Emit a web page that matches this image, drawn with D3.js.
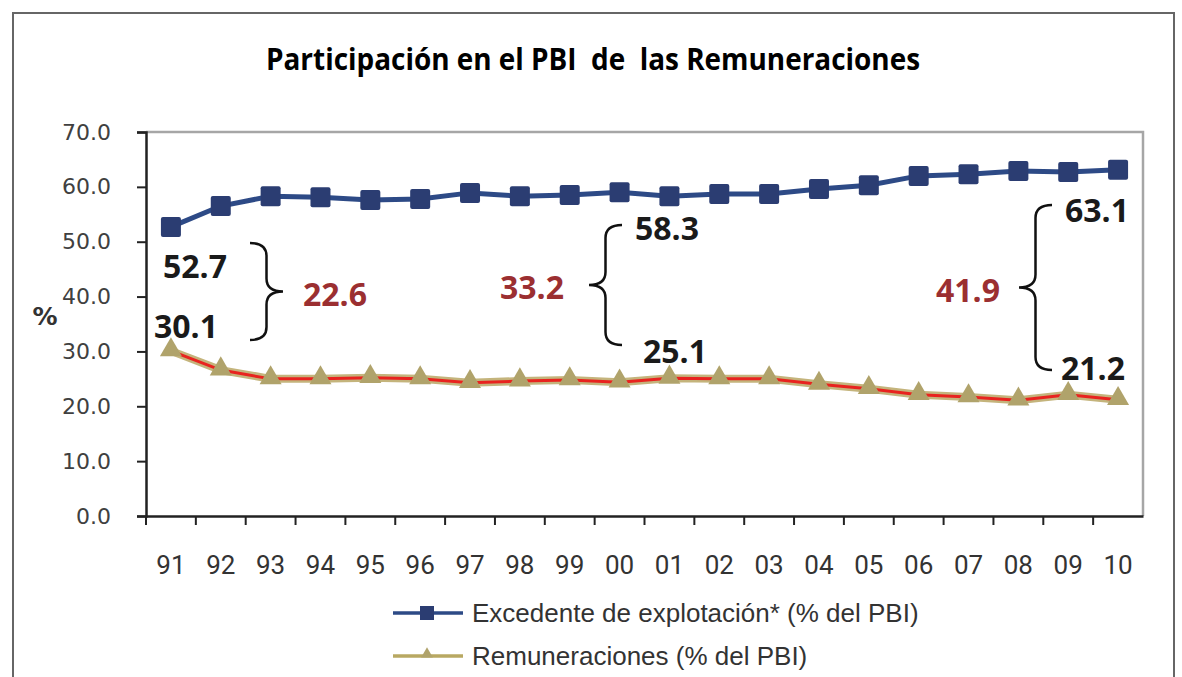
<!DOCTYPE html>
<html lang="es">
  <head>
    <meta charset="UTF-8" />
    <title>Participación en el PBI de las Remuneraciones</title>
    <style>
      body { margin: 0; background: #fff; }
    </style>
  </head>
  <body>
    <div id="chart"></div>
    <script src="https://cdn.jsdelivr.net/npm/d3@7"></script>
    <script>
      // datos
      const years = ["91", "92", "93", "94", "95", "96", "97", "98", "99", "00",
                     "01", "02", "03", "04", "05", "06", "07", "08", "09", "10"];
      const excedente = [52.7, 56.5, 58.3, 58.1, 57.6, 57.8, 58.9, 58.3, 58.5, 59.0,
                         58.3, 58.7, 58.7, 59.6, 60.3, 62.0, 62.3, 62.9, 62.7, 63.1];
      const remuneraciones = [30.1, 26.6, 25.0, 25.0, 25.2, 25.0, 24.3, 24.6, 24.8, 24.4,
                              25.1, 25.0, 25.0, 24.0, 23.2, 22.1, 21.7, 21.1, 22.1, 21.2];
      const yTicks = [0, 10, 20, 30, 40, 50, 60, 70];
      const seriesNames = ["Excedente de explotación* (% del PBI)", "Remuneraciones (% del PBI)"];
      // brechas anotadas: año, excedente, remuneraciones, diferencia
      const gapYears = ["91", "01", "10"];
      const gapTop = [52.7, 58.3, 63.1];
      const gapBottom = [30.1, 25.1, 21.2];
      const gapValues = [22.6, 33.2, 41.9];

      const W = 1182, H = 677;
      const pLeft = 146, pRight = 1143, pTop = 132, pBottom = 516;

      const svg = d3.select("#chart").append("svg")
        .attr("width", W).attr("height", H);

      // marco exterior
      svg.append("path")
        .attr("d", `M13,${H} L13,13 L1174,13 L1174,${H}`)
        .attr("fill", "none").attr("stroke", "#666").attr("stroke-width", 2);

      svg.append("text")
        .attr("x", 593).attr("y", 70)
        .attr("text-anchor", "middle")
        .style("white-space", "pre")
        .attr("font-family", "'Open Sans', sans-serif")
        .attr("font-weight", 700).attr("font-size", 31)
        .attr("textLength", 654).attr("lengthAdjust", "spacingAndGlyphs")
        .attr("fill", "#000")
        .text("Participación en el PBI  de  las Remuneraciones");

      const x = d3.scaleBand().domain(years).range([pLeft, pRight]);
      const y = d3.scaleLinear().domain([0, 70]).range([pBottom, pTop]);
      const cx = d => x(d) + x.bandwidth() / 2;

      // borde del area de grafico
      svg.append("path")
        .attr("d", `M${pLeft},${pTop} L${pRight},${pTop} L${pRight},${pBottom}`)
        .attr("fill", "none").attr("stroke", "#a6a6a6").attr("stroke-width", 2.5);

      const yAxis = svg.append("g")
        .attr("transform", `translate(${pLeft},0)`)
        .call(d3.axisLeft(y).tickValues(yTicks).tickFormat(d3.format(".1f")).tickSize(9).tickPadding(26));
      yAxis.select(".domain").attr("stroke", "#222").attr("stroke-width", 2.5);
      yAxis.selectAll(".tick line").attr("stroke", "#222").attr("stroke-width", 2);
      yAxis.selectAll("text")
        .attr("font-family", "'DejaVu Sans', sans-serif")
        .attr("font-size", 22).attr("fill", "#404040");

      const xAxis = svg.append("g")
        .attr("transform", `translate(0,${pBottom})`)
        .call(d3.axisBottom(x).tickValues([]).tickSizeOuter(0));
      xAxis.select(".domain").attr("stroke", "#222").attr("stroke-width", 2.5);
      // marcas entre categorias
      xAxis.selectAll(".sep")
        .data(years)
        .join("line")
        .attr("x1", d => x(d)).attr("x2", d => x(d))
        .attr("y1", 0).attr("y2", 9)
        .attr("stroke", "#222").attr("stroke-width", 2);
      xAxis.selectAll(".lbl")
        .data(years)
        .join("text")
        .attr("x", d => cx(d)).attr("y", 58)
        .attr("text-anchor", "middle")
        .attr("font-family", "'Liberation Sans Narrow', 'Roboto', sans-serif")
        .attr("font-size", 26).attr("fill", "#333")
        .text(d => d);

      svg.append("text")
        .attr("x", 45).attr("y", 325)
        .attr("text-anchor", "middle")
        .attr("font-family", "'DejaVu Sans', sans-serif")
        .attr("font-weight", 700).attr("font-size", 25)
        .attr("fill", "#333")
        .text("%");

      const line = d3.line().x((d, i) => cx(years[i])).y(d => y(d));

      // remuneraciones: linea ocre con centro rojo
      svg.append("path").datum(remuneraciones)
        .attr("d", line).attr("fill", "none")
        .attr("stroke", "#c4b47c").attr("stroke-width", 8);
      svg.append("path").datum(remuneraciones)
        .attr("d", line).attr("fill", "none")
        .attr("stroke", "#e8231f").attr("stroke-width", 3);
      const tri = d3.symbol().type(d3.symbolTriangle).size(210);
      svg.selectAll(".tri")
        .data(remuneraciones)
        .join("path")
        .attr("transform", (d, i) => `translate(${cx(years[i])},${y(d) - 1})`)
        .attr("d", tri)
        .attr("fill", "#b0a36b");

      // excedente
      svg.append("path").datum(excedente)
        .attr("d", line).attr("fill", "none")
        .attr("stroke", "#2d4a86").attr("stroke-width", 5);
      svg.selectAll(".sq")
        .data(excedente)
        .join("rect")
        .attr("x", (d, i) => cx(years[i]) - 10)
        .attr("y", d => y(d) - 10)
        .attr("width", 20).attr("height", 20).attr("rx", 2)
        .attr("fill", "#2b3d72");

      // llaves y etiquetas de la brecha
      function brace(x0, y1, y2, dir, w) {
        const ym = (y1 + y2) / 2, q = 13, xs = x0 + dir * w / 2, xt = x0 + dir * w;
        return `M${x0},${y1} Q${xs},${y1} ${xs},${y1 + q} L${xs},${ym - q} Q${xs},${ym} ${xt},${ym}` +
               ` Q${xs},${ym} ${xs},${ym + q} L${xs},${y2 - q} Q${xs},${y2} ${x0},${y2}`;
      }
      // posicion de cada anotacion (llave: x, arriba, abajo, sentido)
      const layout = [
        { bx: 250, b1: 243, b2: 340, dir: 1, tx: 195, ty: 278, bxl: 186, byl: 338, gx: 335 },
        { bx: 622, b1: 225, b2: 345, dir: -1, tx: 667, ty: 240, bxl: 675, byl: 363, gx: 532 },
        { bx: 1052, b1: 205, b2: 370, dir: -1, tx: 1097, ty: 222, bxl: 1093, byl: 380, gx: 968 }
      ];
      const fontNum = "'Open Sans', sans-serif";
      gapYears.forEach((yr, i) => {
        const L = layout[i];
        svg.append("path")
          .attr("d", brace(L.bx, L.b1, L.b2, L.dir, 33))
          .attr("fill", "none").attr("stroke", "#111").attr("stroke-width", 2.5);
        svg.append("text").attr("x", L.tx).attr("y", L.ty)
          .attr("text-anchor", "middle").attr("font-family", fontNum)
          .attr("font-weight", 700).attr("font-size", 32).attr("fill", "#1a1a1a")
          .text(d3.format(".1f")(gapTop[i]));
        svg.append("text").attr("x", L.bxl).attr("y", L.byl)
          .attr("text-anchor", "middle").attr("font-family", fontNum)
          .attr("font-weight", 700).attr("font-size", 32).attr("fill", "#1a1a1a")
          .text(d3.format(".1f")(gapBottom[i]));
        svg.append("text").attr("x", L.gx).attr("y", (L.b1 + L.b2) / 2 + 14)
          .attr("text-anchor", "middle").attr("font-family", fontNum)
          .attr("font-weight", 700).attr("font-size", 32).attr("fill", "#9b2f31")
          .text(d3.format(".1f")(gapValues[i]));
      });

      // leyenda
      const legend = svg.append("g").attr("transform", "translate(393,613)");
      legend.append("line").attr("x1", 0).attr("x2", 70).attr("y1", 0).attr("y2", 0)
        .attr("stroke", "#2d4a86").attr("stroke-width", 3.5);
      legend.append("rect").attr("x", 27).attr("y", -7).attr("width", 14).attr("height", 14)
        .attr("fill", "#2b3d72");
      legend.append("line").attr("x1", 0).attr("x2", 70).attr("y1", 43).attr("y2", 43)
        .attr("stroke", "#b8a862").attr("stroke-width", 3.5);
      legend.append("path").attr("transform", "translate(34,41)")
        .attr("d", d3.symbol().type(d3.symbolTriangle).size(60))
        .attr("fill", "#b0a36b");
      legend.selectAll(".lt")
        .data(seriesNames)
        .join("text")
        .attr("x", 79).attr("y", (d, i) => 9 + i * 43)
        .attr("font-family", "'Liberation Sans', Arial, sans-serif")
        .attr("font-size", 26).attr("fill", "#333")
        .text(d => d);
    </script>
  </body>
</html>
